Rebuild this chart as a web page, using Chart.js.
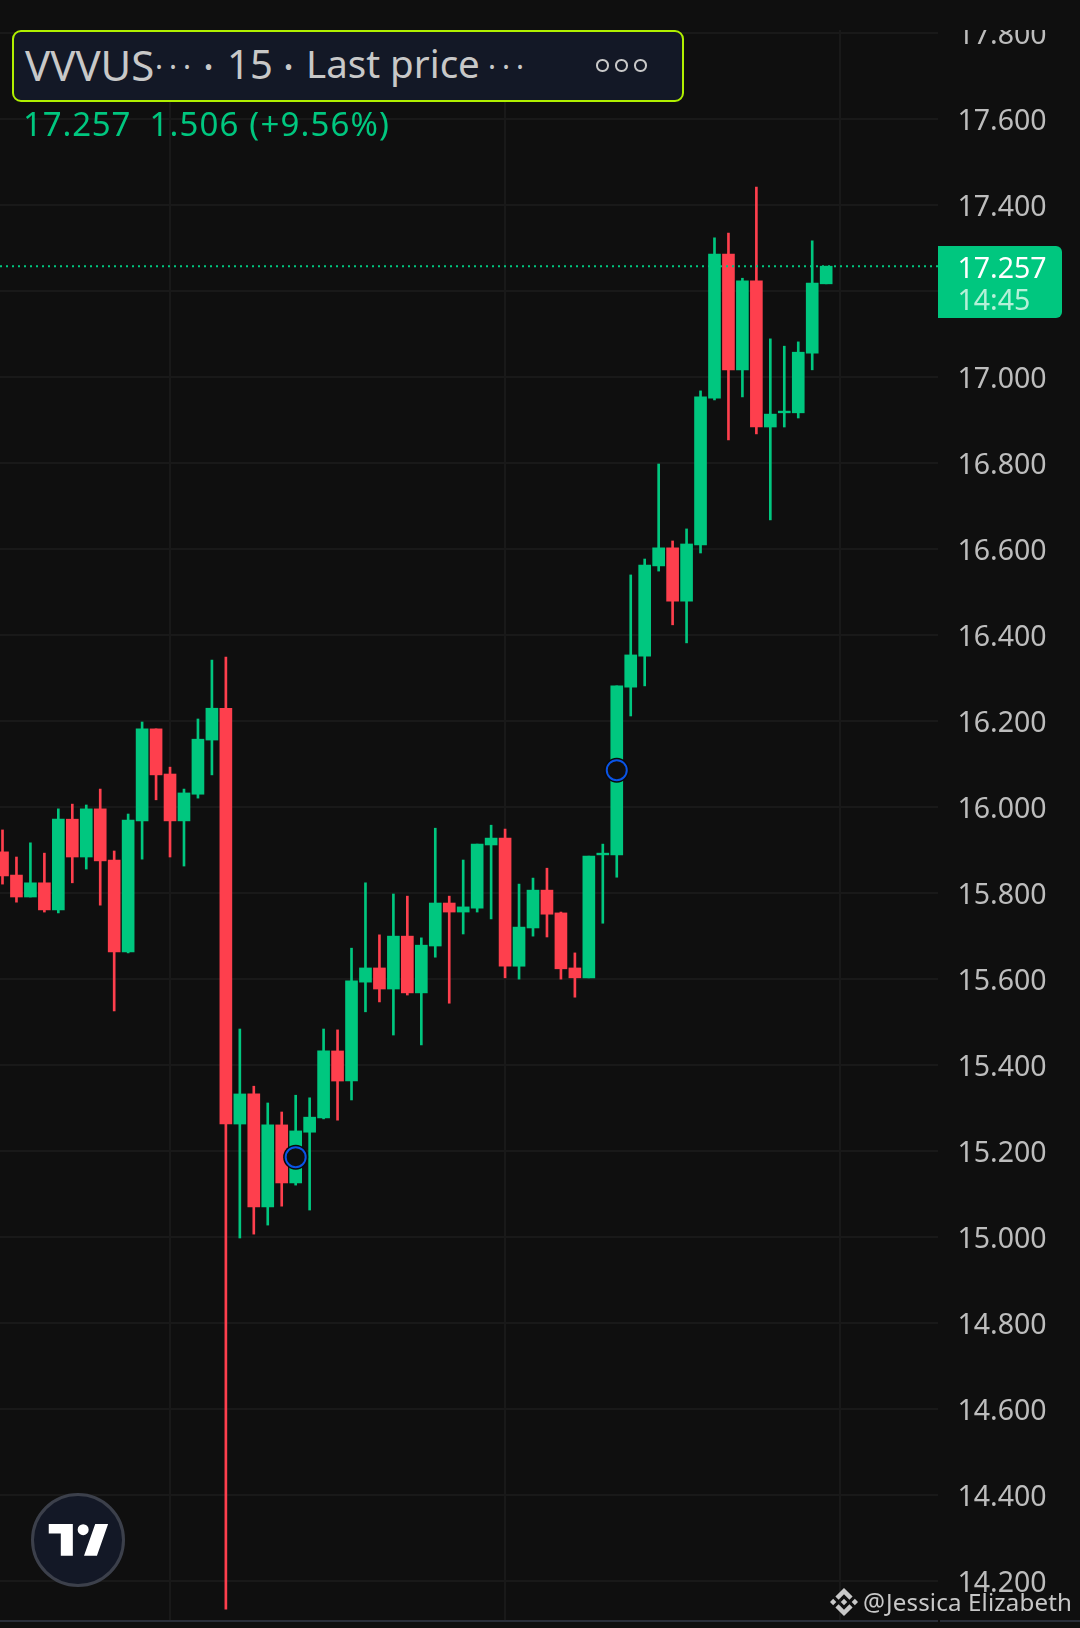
<!DOCTYPE html>
<html lang="en">
  <head>
    <meta charset="UTF-8" />
    <title>VVVUSDT 15</title>
    <script src="https://cdn.jsdelivr.net/npm/chart.js"></script>
    <style>
      html, body { margin: 0; background: #0f0f0f; }
      body { position: relative; width: 1080px; height: 1628px; overflow: hidden; font-family: "Noto Sans", sans-serif; }
      canvas { position: absolute; left: 0; top: 0; }
      .abs { position: absolute; white-space: pre; line-height: 1; }
      .title { top: 44px; font-size: 40px; color: #c8c8c8; }
      .dots { top: 52px; font-size: 30px; letter-spacing: 6px; }
      .sep { top: 55px; font-size: 24px; }
      .change { top: 107px; font-size: 33px; color: #00c77f; }
      #legendBox { left: 12px; top: 30px; width: 668px; height: 68px; background: #131826; border: 2px solid #b0f000; border-radius: 9px; }
      .dot { position: absolute; top: 59px; width: 8.5px; height: 8.5px; border: 2.5px solid #c8c8c8; border-radius: 50%; }
      #priceTag { left: 938px; top: 246px; width: 124px; height: 72px; background: #00c77f; border-radius: 0 6px 6px 0; }
      #tvLogo { left: 31px; top: 1493px; width: 88px; height: 88px; background: #131826; border: 3px solid #3c404b; border-radius: 50%; }
      .bottomLine { top: 1620px; height: 2px; background: #2a2e39; }
    </style>
  </head>
  <body>
    <canvas id="candleChart" width="1080" height="1628"></canvas>
    <div class="abs" id="legendBox"></div>
    <div class="abs title" style="left:25px;font-size:42px">VVVUS</div>
    <div class="abs title dots" style="left:155px">···</div>
    <div class="abs title sep" style="left:204px">•</div>
    <div class="abs title" style="left:227px">15</div>
    <div class="abs title sep" style="left:284px">•</div>
    <div class="abs title" style="left:306px;font-size:38.5px">Last price</div>
    <div class="abs title dots" style="left:488px">···</div>
    <span class="dot" style="left:596px"></span>
    <span class="dot" style="left:615px"></span>
    <span class="dot" style="left:634px"></span>
    <div class="abs change" style="left:23px;letter-spacing:0.85px">17.257</div>
    <div class="abs change" style="left:149.5px;letter-spacing:1.15px">1.506 (+9.56%)</div>
    <div class="abs" id="priceTag"></div>
    <div class="abs" style="left:957.5px;top:253px;font-size:28.5px;color:#fff">17.257</div>
    <div class="abs" style="left:957.5px;top:285px;font-size:28.5px;color:#b5f0d8">14:45</div>
    <div class="abs" id="tvLogo"></div>
    <svg class="abs" style="left:47px;top:1524px" width="62" height="32" viewBox="0 0 36 18.6">
      <path fill="#fff" d="M15 0H1v5.5h7V18.5h7zM29 18.5h-7.5L28 0h7.5zM21 6.5a3.2 3.2 0 1 0 0-6.4 3.2 3.2 0 0 0 0 6.4z" />
    </svg>
    <svg class="abs" style="left:830px;top:1588px" width="28" height="28" viewBox="0 0 126.61 126.61">
      <path fill="#c8c8c8" d="M38.73 53.2L63.3 28.64l24.59 24.58 14.3-14.3L63.3 0 24.43 38.9zM0 63.31l14.3-14.3 14.3 14.3-14.3 14.3zM38.73 73.41L63.3 97.97l24.59-24.58 14.31 14.29h-.01L63.3 126.61 24.43 87.74l-.02-.02zM98.01 63.31l14.3-14.3 14.3 14.3-14.3 14.3zM77.83 63.3h.01L63.3 48.78 48.77 63.31l14.53 14.51 14.54-14.5z" />
    </svg>
    <div class="abs" style="left:863px;top:1590px;font-size:24.5px;color:#c8c8c8">@</div>
    <div class="abs" style="left:886px;top:1590px;font-size:24.1px;letter-spacing:0.15px;color:#c8c8c8">Jessica Elizabeth</div>
    <div class="abs bottomLine" style="left:0;width:938px"></div>
    <div class="abs bottomLine" style="left:940px;width:140px"></div>

    <script>
      const opens = [
        15.895, 15.841, 15.79, 15.823, 15.76, 15.971, 15.883, 15.995, 15.876, 15.662,
        15.967, 16.181, 16.076, 15.967, 16.029, 16.155, 16.229, 15.262, 15.332, 15.069,
        15.26, 15.125, 15.243, 15.276, 15.432, 15.362, 15.592, 15.625, 15.576, 15.699,
        15.567, 15.676, 15.776, 15.755, 15.764, 15.911, 15.927, 15.629, 15.718, 15.806,
        15.753, 15.625, 15.602, 15.888, 15.888, 16.278, 16.35, 16.56, 16.602, 16.478,
        16.609, 16.95, 17.285, 17.016, 17.223, 16.883, 16.916, 16.916, 17.055, 17.216,
      ];
      const highs = [
        15.946, 15.883, 15.916, 15.892, 15.995, 16.006, 16.004, 16.041, 15.897, 15.983,
        16.197, 16.181, 16.092, 16.041, 16.204, 16.341, 16.348, 15.483, 15.35, 15.311,
        15.29, 15.329, 15.323, 15.483, 15.481, 15.671, 15.823, 15.702, 15.797, 15.792,
        15.695, 15.95, 15.792, 15.876, 15.913, 15.957, 15.948, 15.82, 15.834, 15.857,
        15.755, 15.66, 15.885, 15.913, 16.281, 16.539, 16.576, 16.797, 16.618, 16.646,
        16.967, 17.323, 17.334, 17.229, 17.441, 17.088, 17.071, 17.081, 17.316, 17.257,
      ];
      const lows = [
        15.82, 15.778, 15.79, 15.755, 15.753, 15.823, 15.855, 15.771, 15.525, 15.66,
        15.878, 16.016, 15.883, 15.862, 16.02, 16.074, 14.134, 14.997, 15.006, 15.027,
        15.071, 15.12, 15.062, 15.274, 15.271, 15.318, 15.523, 15.546, 15.469, 15.562,
        15.446, 15.65, 15.543, 15.704, 15.755, 15.739, 15.602, 15.599, 15.699, 15.697,
        15.599, 15.557, 15.602, 15.729, 15.836, 16.211, 16.281, 16.548, 16.423, 16.381,
        16.59, 16.946, 16.853, 16.953, 16.867, 16.667, 16.883, 16.904, 17.016, 17.216,
      ];
      const closes = [
        15.839, 15.79, 15.823, 15.76, 15.971, 15.883, 15.995, 15.874, 15.662, 15.969,
        16.181, 16.074, 15.967, 16.032, 16.157, 16.229, 15.262, 15.332, 15.069, 15.26,
        15.125, 15.246, 15.278, 15.432, 15.362, 15.595, 15.625, 15.576, 15.699, 15.567,
        15.678, 15.776, 15.755, 15.767, 15.913, 15.927, 15.629, 15.72, 15.806, 15.75,
        15.623, 15.602, 15.885, 15.892, 16.281, 16.353, 16.562, 16.602, 16.478, 16.611,
        16.953, 17.285, 17.016, 17.223, 16.883, 16.913, 16.92, 17.057, 17.218, 17.257,
      ];
      const priceTicks = [
        14.2, 14.4, 14.6, 14.8, 15.0, 15.2, 15.4, 15.6, 15.8, 16.0, 16.2, 16.4, 16.6,
        16.8, 17.0, 17.2, 17.4, 17.6, 17.8,
      ];
      const timeGridBars = [12, 36, 60];
      const lastPrice = [17.257, 17.257];
      const markerBars = [21, 44];
      const markerPrices = [15.185, 16.085];

      const upColor = "#00c77f";
      const downColor = "#fe3f4d";
      const bgColor = "#0f0f0f";
      const gridColor = "#191919";
      const xMin = -0.179;
      const xMax = 67.01;

      const candleColors = closes.map((c, i) => (c >= opens[i] ? upColor : downColor));

      // paints over the top of the axis so 17.800 gets cut like the screenshot
      const topBand = {
        id: "topBand",
        afterDraw(chart) {
          const ctx = chart.ctx;
          ctx.save();
          ctx.fillStyle = bgColor;
          ctx.fillRect(chart.chartArea.right, 0, chart.width - chart.chartArea.right, 30);
          ctx.restore();
        },
      };

      new Chart(document.getElementById("candleChart").getContext("2d"), {
        data: {
          datasets: [
            {
              type: "line",
              data: lastPrice.map((p, i) => ({ x: i === 0 ? xMin : xMax, y: p })),
              borderColor: upColor,
              borderWidth: 2,
              borderDash: [2, 4],
              pointRadius: 0,
              order: -1, // dots sit on top of the candles
            },
            {
              type: "bar",
              data: lows.map((l, i) => ({ x: i, y: [l, highs[i]] })),
              backgroundColor: candleColors,
              barThickness: 2,
              grouped: false,
              order: 3,
            },
            {
              type: "bar",
              data: opens.map((o, i) => ({ x: i, y: [o, closes[i]] })),
              backgroundColor: candleColors,
              barThickness: 12,
              grouped: false,
              order: 2,
            },
            {
              type: "scatter",
              data: markerBars.map((b, i) => ({ x: b, y: markerPrices[i] })),
              pointRadius: 10,
              pointBorderWidth: 2,
              pointBorderColor: "#0a54e6",
              pointBackgroundColor: bgColor,
              order: 0,
            },
            {
              type: "scatter",
              data: markerBars.map((b, i) => ({ x: b, y: markerPrices[i] })),
              pointRadius: 12.5,
              pointBorderWidth: 0,
              pointBackgroundColor: "#0a0a0a",
              order: 1,
            },
          ],
        },
        options: {
          responsive: false,
          animation: false,
          layout: { autoPadding: false, padding: { top: 30, bottom: 8 } },
          plugins: { legend: { display: false }, tooltip: { enabled: false } },
          scales: {
            x: {
              type: "linear",
              offset: false,
              min: xMin,
              max: xMax,
              afterBuildTicks: (scale) => {
                scale.ticks = timeGridBars.map((v) => ({ value: v }));
              },
              afterFit: (scale) => {
                scale.height = 0;
              },
              ticks: { display: false },
              grid: { color: gridColor, lineWidth: 2, drawTicks: false, offset: false },
              border: { display: false },
            },
            y: {
              position: "right",
              min: 14.1086,
              max: 17.8063,
              afterBuildTicks: (scale) => {
                scale.ticks = priceTicks.map((v) => ({ value: v }));
              },
              afterFit: (scale) => {
                scale.width = 142;
                scale.paddingTop = 0;
                scale.paddingBottom = 0;
              },
              ticks: {
                autoSkip: false,
                padding: 19.5,
                labelOffset: 3.2,
                color: "#bdbdbd",
                font: { family: "Noto Sans", size: 28.5 },
                callback: (v) => v.toFixed(3),
              },
              grid: { color: gridColor, lineWidth: 2, drawTicks: false },
              border: { display: false },
            },
          },
        },
        plugins: [topBand],
      });
    </script>
  </body>
</html>
